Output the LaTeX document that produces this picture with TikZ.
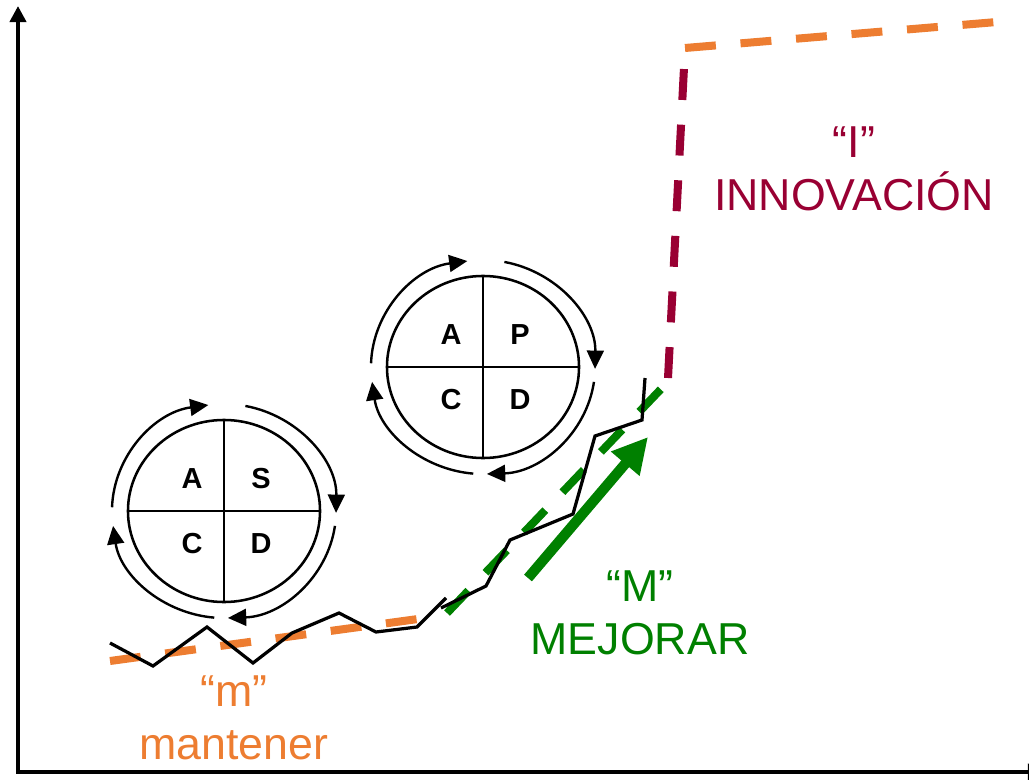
\documentclass[tikz,border=0pt]{standalone}
\usepackage{fontspec}
\setmainfont{Liberation Sans}
\usetikzlibrary{arrows.meta,calc}
\definecolor{mOrange}{HTML}{ED7D31}
\definecolor{iRed}{HTML}{990033}
\definecolor{mGreen}{HTML}{008000}

\begin{document}
\begin{tikzpicture}[
    x=0.025cm, y=0.025cm,
    axis/.style={line width=2.8pt,{Triangle[length=11.4pt,width=11.4pt]}-{Triangle[length=11.4pt,width=11.4pt]}},
    trend/.style={line width=5.7pt,dash pattern=on 22pt off 17.6pt},
    walk/.style={line width=2.3pt,line join=miter},
    wheel/.style={line width=1.8pt},
    split/.style={line width=1.4pt},
    spin/.style={line width=1.7pt,-{Triangle[length=13pt,width=12pt]}},
    letter/.style={font=\fontsize{20.6pt}{24pt}\selectfont\bfseries,inner sep=0},
    tag/.style={align=center,inner sep=0,font=\fontsize{31.8pt}{37.7pt}\selectfont}
]
\clip (0,0) rectangle (1029,779);

% axes
\coordinate (ytop) at (18,773);
\coordinate (xend) at (1044,7);
\draw[axis] (ytop) |- (xend);

% the three trend lines
\coordinate (m0) at (110,118);
\coordinate (m1) at (418,160);
\coordinate (M0) at (447,166);
\coordinate (M1) at (662,391);
\coordinate (I0) at (668,401);
\coordinate (I1) at (685,731);
\coordinate (I2) at (997,757);
\draw[trend,mOrange] (m0) -- (m1);
\draw[trend,mGreen] (M0) -- (M1);
\draw[trend,iRed] (I0) -- (I1);
\draw[trend,mOrange] (I1) -- (I2);

% real performance
\draw[walk] (110,136) -- (153,113) -- (207,152) -- (253,116) -- (292,146)
  -- (339,166) -- (376,147) -- (417,152) -- (446,181);
\draw[walk] (441,171) -- (486,193) -- (510,239) -- (573,265) -- (595,343)
  -- (642,359) -- (645,401);

% big improvement arrow
\coordinate (up0) at (528,201);
\coordinate (up1) at (648,342);
\draw[mGreen,line width=7.3pt,-{Triangle[length=25pt,width=25pt]}] (up0) -- (up1);

% the two wheels
\coordinate (w1) at (224,268);
\coordinate (w2) at (483,412);
\foreach \w/\q in {w1/S,w2/P}{
  \draw[wheel] (\w) ellipse [x radius=2.4cm,y radius=2.275cm];
  \draw[split] ($(\w)+(0,91)$) -- ($(\w)+(0,-91)$);
  \draw[split] ($(\w)+(-96,0)$) -- ($(\w)+(96,0)$);
  \node[letter] (\w-a) at ($(\w)+(-32,32)$) {A};
  \node[letter] (\w-b) at ($(\w)+(37,32)$) {\q};
  \node[letter] (\w-c) at ($(\w)+(-32,-33)$) {C};
  \node[letter] (\w-d) at ($(\w)+(37,-33)$) {D};
  \draw[spin] ($(\w)+(178:2.8cm and 2.675cm)$) arc[start angle=178,end angle=98,x radius=2.8cm,y radius=2.675cm];
  \draw[spin] ($(\w)+(79:2.8cm and 2.675cm)$) arc[start angle=79,end angle=-1,x radius=2.8cm,y radius=2.675cm];
  \draw[spin] ($(\w)+(-8:2.8cm and 2.675cm)$) arc[start angle=-8,end angle=-88,x radius=2.8cm,y radius=2.675cm];
  \draw[spin] ($(\w)+(-95:2.8cm and 2.675cm)$) arc[start angle=-95,end angle=-172,x radius=2.8cm,y radius=2.675cm];
}

% labels
\node[tag,text=mOrange] (mlab) at (234,61) {“m”\\mantener};
\node[tag,text=mGreen] (Mlab) at (640,166) {“M”\\MEJORAR};
\node[tag,text=iRed] (Ilab) at (854,610) {“I”\\INNOVACIÓN};
\end{tikzpicture}
\end{document}
